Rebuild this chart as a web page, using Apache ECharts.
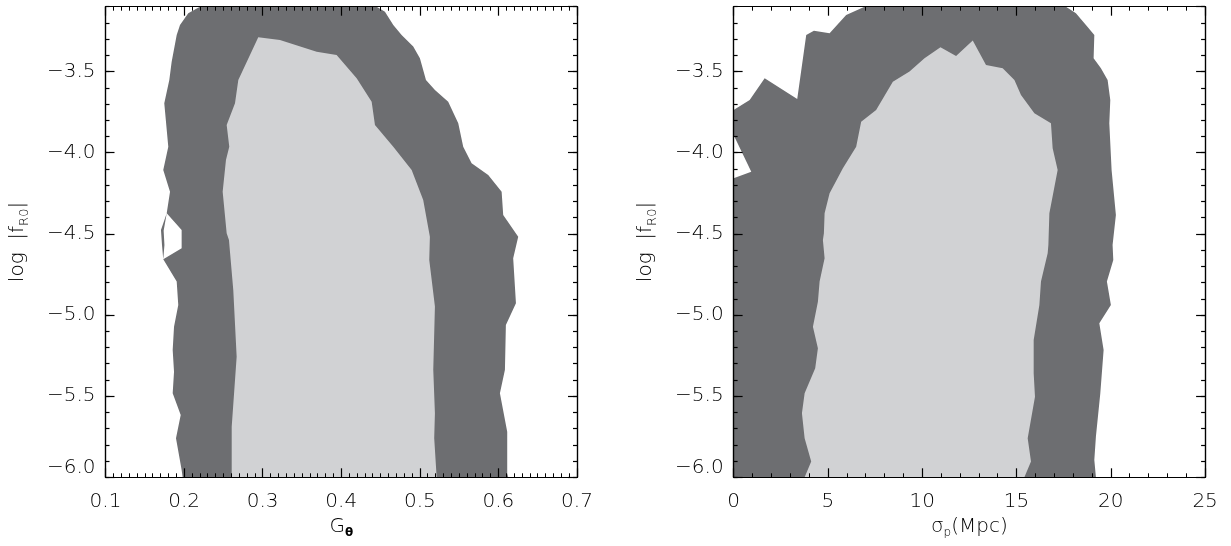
<!DOCTYPE html>
<html>
<head>
<meta charset="utf-8">
<script src="https://cdn.jsdelivr.net/npm/echarts@6/dist/echarts.min.js"></script>
<style>
html, body { margin: 0; padding: 0; background: #fff; }
#chart { width: 1231px; height: 546px; }
</style>
</head>
<body>
<div id="chart"></div>
<script>
// axis ranges
var yRange = [-6.0, -3.1];
var gRange = [0.1, 0.7];
var sigmaRange = [0, 25];

// left panel, G_theta vs log|fR0| : outer (2 sigma) and inner (1 sigma) contours
var gOuter = [
  [0.2202,-3.1],[0.4450,-3.1],[0.4556,-3.131],[0.4662,-3.213],[0.4768,-3.274],[0.4916,-3.346],
  [0.5001,-3.418],[0.5078,-3.552],[0.5192,-3.613],[0.5361,-3.685],[0.5489,-3.818],[0.5552,-3.963],
  [0.5659,-4.065],[0.5870,-4.137],[0.6041,-4.240],[0.6061,-4.383],[0.6252,-4.517],[0.6188,-4.650],
  [0.6223,-4.927],[0.6095,-5.061],[0.6083,-5.338],[0.6019,-5.482],[0.6112,-5.719],[0.6112,-5.975],
  [0.6125,-6.0],[0.1982,-6.0],[0.1969,-5.955],[0.1897,-5.759],[0.1957,-5.616],[0.1855,-5.482],
  [0.1872,-5.349],[0.1855,-5.215],[0.1872,-5.072],[0.1926,-4.938],[0.1906,-4.794],[0.1735,-4.656],
  [0.1969,-4.589],[0.1969,-4.476],[0.1779,-4.373],[0.1821,-4.240],[0.1735,-4.106],[0.1799,-3.963],
  [0.1748,-3.695],[0.1812,-3.552],[0.1842,-3.439],[0.1906,-3.274],[0.1948,-3.213],[0.2053,-3.141]
];
var gSliver = [
  [0.1779,-4.373],[0.1706,-4.476],[0.1719,-4.568],[0.1735,-4.656],[0.1750,-4.568],[0.1740,-4.480]
];
var gInner = [
  [0.2944,-3.289],[0.3220,-3.305],[0.3687,-3.377],[0.3941,-3.398],[0.4196,-3.541],[0.4387,-3.685],
  [0.4429,-3.829],[0.4662,-3.963],[0.4896,-4.106],[0.5043,-4.291],[0.5128,-4.517],[0.5120,-4.661],
  [0.5192,-4.948],[0.5171,-5.338],[0.5192,-5.605],[0.5183,-5.759],[0.5214,-6.0],[0.2606,-6.0],
  [0.2606,-5.688],[0.2669,-5.257],[0.2626,-4.846],[0.2571,-4.537],[0.2542,-4.496],[0.2491,-4.240],
  [0.2533,-4.045],[0.2575,-3.963],[0.2542,-3.829],[0.2648,-3.695],[0.2690,-3.552]
];

// right panel, sigma_p vs log|fR0|
var sOuter = [
  [0,-3.736],[0.853,-3.675],[1.647,-3.541],[3.374,-3.669],[3.851,-3.274],[4.258,-3.248],
  [5.090,-3.264],[5.969,-3.151],[6.944,-3.1],[17.622,-3.1],[18.151,-3.141],[18.681,-3.213],
  [19.126,-3.274],[19.089,-3.418],[19.476,-3.480],[19.831,-3.552],[19.973,-3.675],[19.921,-3.818],
  [20.042,-4.106],[20.270,-4.383],[20.095,-4.568],[20.132,-4.661],[19.793,-4.794],[20.005,-4.938],
  [19.391,-5.051],[19.619,-5.215],[19.444,-5.482],[19.211,-5.749],[19.126,-5.893],[19.211,-6.0],
  [0,-6.0],[0,-4.157],[0.937,-4.117],[0,-3.890]
];
var sInner = [
  [12.680,-3.309],[13.384,-3.459],[14.269,-3.480],[14.889,-3.552],[15.238,-3.644],[15.948,-3.757],
  [16.827,-3.818],[16.917,-3.972],[17.182,-4.106],[16.743,-4.373],[16.690,-4.568],[16.653,-4.619],
  [16.298,-4.794],[16.213,-4.938],[15.911,-5.154],[15.911,-5.359],[15.980,-5.503],[15.593,-5.759],
  [15.768,-5.903],[15.418,-6.0],[3.766,-6.0],[4.115,-5.903],[3.766,-5.759],[3.623,-5.605],
  [3.766,-5.482],[4.327,-5.328],[4.470,-5.205],[4.206,-5.072],[4.470,-4.918],[4.560,-4.794],
  [4.825,-4.650],[4.735,-4.537],[4.788,-4.496],[4.825,-4.373],[5.090,-4.250],[5.794,-4.096],
  [6.499,-3.963],[6.764,-3.809],[7.558,-3.736],[8.443,-3.562],[9.327,-3.500],[10.122,-3.418],
  [10.969,-3.350],[11.796,-3.404]
];

var DARK = '#6d6e71';
var LIGHT = '#d1d2d4';
var FONT = 'DejaVu Sans';
var INK = '#000';

var chart = echarts.init(document.getElementById('chart'));

function polygon(pts, color, xi, yi) {
  return {
    type: 'custom',
    xAxisIndex: xi,
    yAxisIndex: yi,
    z: 2,
    silent: true,
    data: [0],
    renderItem: function (params, api) {
      return {
        type: 'polygon',
        shape: { points: pts.map(function (p) { return api.coord(p); }) },
        style: { fill: color, stroke: null }
      };
    }
  };
}

var labelStyle = { color: INK, fontFamily: FONT, fontSize: 20, fontWeight: 200 };

function xAx(grid, range, step, minorSplit, pos, name, digits) {
  var bottom = pos === 'bottom';
  return {
    type: 'value', gridIndex: grid, position: pos, min: range[0], max: range[1], interval: step,
    z: 5,
    axisLine: { show: true, onZero: false, lineStyle: { color: '#000', width: 1.2 } },
    axisTick: { show: true, inside: true, length: 9, lineStyle: { color: '#000', width: 1.2 } },
    minorTick: { show: true, splitNumber: minorSplit, length: 4, lineStyle: { color: '#000', width: 1 } },
    splitLine: { show: false },
    axisLabel: Object.assign({ show: bottom, margin: 14,
      formatter: function (v) { return v.toFixed(digits); } }, labelStyle),
    name: bottom ? name : '',
    nameLocation: 'middle',
    nameGap: 36,
    nameTextStyle: {
      color: INK, fontFamily: FONT, fontSize: 20, fontWeight: 200,
      rich: {
        b: { fontFamily: FONT, fontSize: 20, fontWeight: 200, color: INK },
        s: { fontFamily: FONT, fontSize: 12, color: INK, fontWeight: 200, padding: [14, 0, 0, 0] },
        t: { fontFamily: FONT, fontSize: 12, color: INK, fontWeight: 'bold', padding: [14, 0, 0, 0] }
      }
    }
  };
}

function yAx(grid, pos, step, tickLen, labels) {
  var left = pos === 'left';
  return {
    type: 'value', gridIndex: grid, position: pos, min: yRange[0], max: yRange[1], interval: step,
    z: 5,
    axisLine: { show: true, onZero: false, lineStyle: { color: '#000', width: 1.2 } },
    axisTick: { show: true, inside: true, length: tickLen, lineStyle: { color: '#000', width: 1.2 } },
    splitLine: { show: false },
    axisLabel: Object.assign({ show: labels && left, margin: 10, showMaxLabel: false,
      verticalAlignMinLabel: 'bottom',
      formatter: function (v) { return v.toFixed(1).replace('-', '\u2212'); } }, labelStyle),
    name: labels && left ? 'log  |f{s|R0}|' : '',
    nameLocation: 'middle',
    nameRotate: 90,
    nameGap: 74,
    nameTextStyle: {
      color: INK, fontFamily: FONT, fontSize: 20, fontWeight: 200,
      rich: {
        s: { fontFamily: FONT, fontSize: 13, color: INK, fontWeight: 200, padding: [14, 0, 0, 0] }
      }
    }
  };
}

chart.setOption({
  backgroundColor: '#fff',
  animation: false,
  grid: [
    { left: 105.5, top: 6.7, width: 471.5, height: 470.6, outerBoundsMode: 'none', containLabel: false },
    { left: 733.6, top: 6.7, width: 471.5, height: 470.6, outerBoundsMode: 'none', containLabel: false }
  ],
  xAxis: [
    xAx(0, gRange, 0.1, 10, 'bottom', '{b|G}{t|\u03b8}', 1),
    xAx(0, gRange, 0.1, 10, 'top', '', 1),
    xAx(1, sigmaRange, 5, 5, 'bottom', '{b|\u03c3}{s|p}{b|(Mpc)}', 0),
    xAx(1, sigmaRange, 5, 5, 'top', '', 0)
  ],
  yAxis: [
    yAx(0, 'left', 0.5, 9, true),
    yAx(0, 'left', 0.1, 4, false),
    yAx(0, 'right', 0.5, 9, false),
    yAx(0, 'right', 0.1, 4, false),
    yAx(1, 'left', 0.5, 9, true),
    yAx(1, 'left', 0.1, 4, false),
    yAx(1, 'right', 0.5, 9, false),
    yAx(1, 'right', 0.1, 4, false)
  ],
  series: [
    polygon(gOuter, DARK, 0, 0),
    polygon(gSliver, DARK, 0, 0),
    polygon(gInner, LIGHT, 0, 0),
    polygon(sOuter, DARK, 2, 4),
    polygon(sInner, LIGHT, 2, 4)
  ]
});
</script>
</body>
</html>
